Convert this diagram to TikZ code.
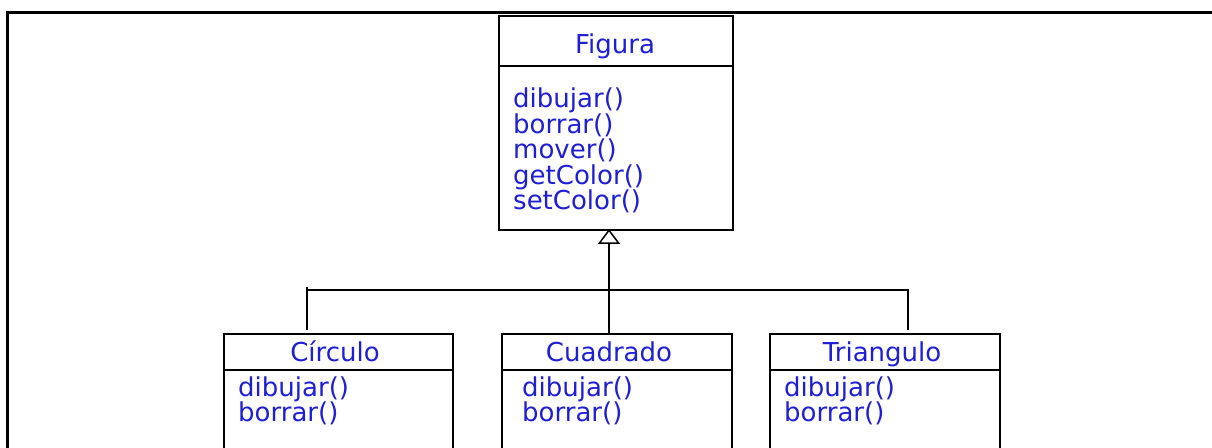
\documentclass[tikz,border=0pt]{standalone}
\usepackage{fontspec}
\setmainfont{DejaVu Sans}
\usetikzlibrary{arrows.meta}
\definecolor{umlblue}{RGB}{30,30,215}
\tikzset{
  umlbox/.style={draw=black, line width=1.8bp, fill=none, inner sep=0pt, anchor=north west},
  sepline/.style={draw=black, line width=1.8bp},
  conn/.style={draw=black, line width=1.8bp},
  frameline/.style={draw=black, line width=3bp},
  umltxt/.style={font=\fontsize{26bp}{26bp}\selectfont, text=umlblue, inner sep=0pt},
  meth/.style={umltxt, anchor=base west},
  ttl/.style={umltxt, anchor=base},
  gen/.style={-{Triangle[open, length=15bp, width=22bp, line width=1.5bp]}}
}
\begin{document}
\begin{tikzpicture}[x=1bp, y=-1bp]
\clip (0,0) rectangle (1212,448);
\fill[white] (0,0) rectangle (1212,448);
% frame (cropped)
\draw[frameline] (7,460) -- (7,12.5) -- (1220,12.5);

% Figura
\node[umlbox, minimum width=234bp, minimum height=214bp] (fig) at (498,15) {};
\draw[sepline] (498,66) -- (732,66);
\node[ttl] (figt) at (615,54) {Figura};
\node[meth] (fm1) at (513,108) {dibujar()};
\node[meth] (fm2) at (513,133.5) {borrar()};
\node[meth] (fm3) at (513,159) {mover()};
\node[meth] (fm4) at (513,184.5) {getColor()};
\node[meth] (fm5) at (513,210) {setColor()};

% Circulo
\node[umlbox, minimum width=229bp, minimum height=140bp] (cir) at (223,333) {};
\draw[sepline] (223,370) -- (452,370);
\node[ttl] (cirt) at (335,362) {Círculo};
\node[meth] (cm1) at (238,397) {dibujar()};
\node[meth] (cm2) at (238,422) {borrar()};

% Cuadrado
\node[umlbox, minimum width=230bp, minimum height=140bp] (cua) at (501,333) {};
\draw[sepline] (501,370) -- (731,370);
\node[ttl] (cuat) at (609,362) {Cuadrado};
\node[meth] (qm1) at (522,397) {dibujar()};
\node[meth] (qm2) at (522,422) {borrar()};

% Triangulo
\node[umlbox, minimum width=230bp, minimum height=140bp] (tri) at (769,333) {};
\draw[sepline] (769,370) -- (999,370);
\node[ttl] (trit) at (882,362) {Triangulo};
\node[meth] (tm1) at (784,397) {dibujar()};
\node[meth] (tm2) at (784,422) {borrar()};

% connectors
\coordinate (cirTop) at (307,330);
\coordinate (tick) at (307,287);
\coordinate (hubL) at (307,290);
\coordinate (hubR) at (908,290);
\coordinate (triTop) at (908,330);
\coordinate (cuaTop) at (609,333);
\coordinate (figBot) at (609,229);
\draw[conn] (cirTop) -- (tick);
\draw[conn] (hubL) -- (hubR) -- (triTop);
\draw[conn, gen] (cuaTop) -- (figBot);
\end{tikzpicture}
\end{document}
